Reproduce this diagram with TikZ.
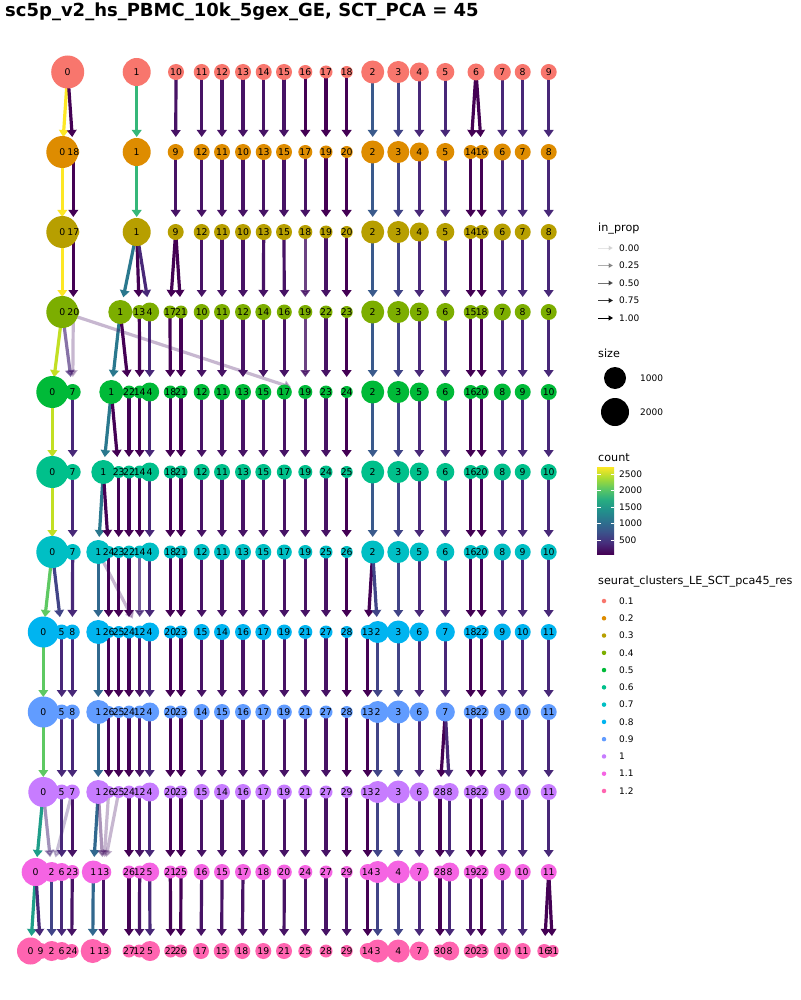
\documentclass[tikz,border=0pt]{standalone}
\usepackage{fontspec}
\setmainfont{DejaVu Sans}
\usetikzlibrary{arrows.meta,backgrounds}
% resolution colours (hue palette)
\definecolor{res1}{HTML}{F8766D}
\definecolor{res2}{HTML}{DE8C00}
\definecolor{res3}{HTML}{B79F00}
\definecolor{res4}{HTML}{7CAE00}
\definecolor{res5}{HTML}{00BA38}
\definecolor{res6}{HTML}{00C08B}
\definecolor{res7}{HTML}{00BFC4}
\definecolor{res8}{HTML}{00B4F0}
\definecolor{res9}{HTML}{619CFF}
\definecolor{res10}{HTML}{C77CFF}
\definecolor{res11}{HTML}{F564E3}
\definecolor{res12}{HTML}{FF64B0}
% edge colours (viridis by count)
\definecolor{vA}{HTML}{440154}
\definecolor{vB}{HTML}{471365}
\definecolor{vC}{HTML}{482878}
\definecolor{vD}{HTML}{414487}
\definecolor{vE}{HTML}{3A5A8C}
\definecolor{vF}{HTML}{31688E}
\definecolor{vG}{HTML}{2A788E}
\definecolor{vI}{HTML}{1F9E89}
\definecolor{vK}{HTML}{35B779}
\definecolor{vL}{HTML}{5EC962}
\definecolor{vO}{HTML}{C2DF23}
\definecolor{vP}{HTML}{FDE725}
\definecolor{vir1}{HTML}{472D7B}
\definecolor{vir2}{HTML}{3B528B}
\definecolor{vir3}{HTML}{2C728E}
\definecolor{vir4}{HTML}{21908C}
\definecolor{vir5}{HTML}{27AD81}
\definecolor{vir6}{HTML}{5DC863}
\definecolor{vir7}{HTML}{AADC32}
\pgfdeclareverticalshading{viridisbar}{100bp}{color(0bp)=(vA); color(25bp)=(vA); color(31.25bp)=(vir1); color(37.5bp)=(vir2); color(43.75bp)=(vir3); color(50bp)=(vir4); color(56.25bp)=(vir5); color(62.5bp)=(vir6); color(68.75bp)=(vir7); color(75bp)=(vP); color(100bp)=(vP)}
\tikzset{
  clnode/.style={circle, inner sep=0pt, draw=none},
  cllbl/.style={font=\fontsize{9.3}{10}\selectfont, inner sep=0pt, text=black},
  arr/.style={-{Triangle[length=7pt,width=9.5pt]}, line width=3.2pt, shorten >=15pt},
  legtitle/.style={font=\fontsize{11.2}{13}\selectfont, anchor=west, inner sep=0pt},
  legtxt/.style={font=\fontsize{9}{10}\selectfont, anchor=west, inner sep=0pt},
  legarr/.style={-{Triangle[length=4.5pt,width=5pt]}, line width=1pt, draw=black},
}
% one row of clusters: circles first, then their labels
\newcommand{\clrow}[3]{%
  \foreach \c/\x/\r in #3 {\node[clnode, fill=res#1, minimum size=2*\r pt] (r#1-\c) at (\x,#2) {};}
  \foreach \c/\x/\r in #3 {\node[cllbl] (t#1-\c) at (r#1-\c) {\c};}
}
% cluster / x / radius per resolution
\newcommand{\lstA}{0/67.7/16.5, 1/136.7/14, 10/176/8, 11/201.7/8, 12/222/8, 13/243/8, 14/263.7/8, 15/284/8, 16/305.3/7, 17/326/6.5, 18/346.7/6, 2/372.7/11.5, 3/398.3/11, 4/419.3/9.5, 5/445.3/9, 6/476/8.5, 7/502.3/8.5, 8/522.7/8, 9/548.7/8}
\newcommand{\lstB}{0/62.3/16, 18/73.3/6, 1/136.7/14, 9/175.7/8, 12/201.7/8, 11/222/8, 10/243/8, 13/263.7/8, 15/284/8, 17/305.3/7, 19/326/6.5, 20/346.7/6, 2/372.7/11.5, 3/398.3/11, 4/419.3/9.5, 5/445.3/9, 14/470.7/7, 16/481.7/7, 6/502.3/8.5, 7/522.7/8, 8/548.7/8}
\newcommand{\lstC}{0/62.3/16, 17/73.3/6, 1/136.7/14, 9/175.7/8, 12/201.7/8, 11/222/8, 10/243/8, 13/263.7/8, 15/284/8, 18/305.3/7, 19/326/6.5, 20/346.7/6, 2/372.7/11.5, 3/398.3/11, 4/419.3/9.5, 5/445.3/9, 14/470.7/7, 16/481.7/7, 6/502.3/8.5, 7/522.7/8, 8/548.7/8}
\newcommand{\lstD}{0/62.3/16, 20/73.3/6, 1/120.3/12, 13/139.3/7, 4/149.7/9.5, 17/170/6.5, 21/181/6.5, 10/201.7/8, 11/222/8, 12/243/8, 14/263.3/8, 16/284.3/7.5, 19/305.3/7, 22/326/6.5, 23/346.7/6, 2/372.7/11.5, 3/398.3/11, 5/419.3/9.5, 6/445.3/9, 15/470.7/7, 18/481.7/7, 7/502.3/8.5, 8/522.7/8, 9/548.7/8}
\newcommand{\lstE}{0/52.3/16, 7/72.7/8, 1/111.3/12, 22/129/6.5, 14/139.7/6.5, 4/149.7/9.5, 18/170.3/6.5, 21/181/6.5, 12/201.7/8, 11/222/8, 13/243/8, 15/263.3/8, 17/284.3/7.5, 19/305.3/7, 23/326/6.5, 24/346.7/6, 2/372.7/11.5, 3/398.3/11, 5/419.3/9.5, 6/445.3/9, 16/470.7/7, 20/481.7/7, 8/502.3/8.5, 9/522.7/8, 10/548.7/8}
\newcommand{\lstF}{0/52.3/16, 7/72.7/8, 1/103.3/12, 23/118.7/6, 22/129/6.5, 14/139.7/6.5, 4/149.7/9.5, 18/170.3/6.5, 21/181/6.5, 12/201.7/8, 11/222/8, 13/243/8, 15/263.3/8, 17/284.3/7.5, 19/305.3/7, 24/326/6.5, 25/346.7/6, 2/372.7/11.5, 3/398.3/11, 5/419.3/9.5, 6/445.3/9, 16/470.7/7, 20/481.7/7, 8/502.3/8.5, 9/522.7/8, 10/548.7/8}
\newcommand{\lstG}{0/52.3/16, 7/72.7/8, 1/98.3/12, 24/108.7/6, 23/118.7/6, 22/129/6.5, 14/139.7/6.5, 4/149.7/9.5, 18/170.3/6.5, 21/181/6.5, 12/201.7/8, 11/222/8, 13/243/8, 15/263.3/8, 17/284.3/7.5, 19/305.3/7, 25/326/6.5, 26/346.7/6, 2/372.7/11.5, 3/398.3/11, 5/419.3/9.5, 6/445.3/9, 16/470.7/7, 20/481.7/7, 8/502.3/8.5, 9/522.7/8, 10/548.7/8}
\newcommand{\lstH}{0/43.3/15.5, 5/61.7/7.5, 8/72.3/7.5, 1/98.3/12, 26/108.7/6, 25/118.7/6, 24/129/6.5, 12/139.7/6.5, 4/149.7/9.5, 20/170.3/6.5, 23/181/6.5, 15/201.7/8, 14/222/8, 16/243/8, 17/263.3/8, 19/284.3/7.5, 21/305.3/7, 27/326/6.5, 28/346.7/6, 13/367.7/7, 2/377.7/11, 3/398.3/11.5, 6/419.3/9.5, 7/445.3/9.5, 18/470.7/7, 22/481.7/7, 9/502.3/8.5, 10/522.7/8, 11/548.7/8}
\newcommand{\lstI}{0/43.3/15.5, 5/61.7/7.5, 8/72.3/7.5, 1/98.3/12, 26/108.7/6, 25/118.7/6, 24/129/6.5, 12/139.7/6.5, 4/149.7/9.5, 20/170.3/6.5, 23/181/6.5, 14/201.7/8, 15/222/8, 16/243/8, 17/263.3/8, 19/284.3/7.5, 21/305.3/7, 27/326/6.5, 28/346.7/6, 13/367.7/7, 2/377.7/11, 3/398.3/11.5, 6/419.3/9.5, 7/445.3/9.5, 18/470.7/7, 22/481.7/7, 9/502.3/8.5, 10/522.7/8, 11/548.7/8}
\newcommand{\lstJ}{0/43.3/15, 5/61.7/7.5, 7/72.3/7.5, 1/98.3/12, 26/108.7/6, 25/118.7/6, 24/129/6.5, 12/139.7/6.5, 4/149.7/9.5, 20/170.3/6.5, 23/181/6.5, 15/201.7/8, 14/222/8, 16/243/8, 17/263.3/8, 19/284.3/7.5, 21/305.3/7, 27/326/6.5, 29/346.7/6, 13/367.7/7, 2/377.7/11, 3/398.3/11.5, 6/419.3/9.5, 28/440/7, 8/449.7/9, 18/470.7/7, 22/481.7/7, 9/502.3/8.5, 10/522.7/8, 11/548.7/8}
\newcommand{\lstK}{0/35.7/14, 2/51.7/10, 6/61.7/9, 23/72.3/7, 1/93.3/11.5, 13/103.3/8, 26/129/6.5, 12/139.7/6.5, 5/149.7/9.5, 21/170.3/6.5, 25/181/6.5, 16/201.7/8, 15/222/8, 17/243/8, 18/263.3/8, 20/284.3/7.5, 24/305.3/7, 27/326/6.5, 29/346.7/6, 14/367.7/8, 3/377.7/11, 4/398.3/11.5, 7/419.3/9.5, 28/440/6.5, 8/449.7/9.5, 19/470.7/7, 22/481.7/7, 9/502.3/8.5, 10/522.7/8, 11/548.7/8}
\newcommand{\lstL}{0/30.5/13.5, 9/40.7/8, 2/51.7/10, 6/61.7/9, 24/71.7/7, 1/92.7/12, 13/103.3/8, 27/129/6.5, 12/139.3/6.5, 5/150/10, 22/170.7/6.5, 26/180.7/6.5, 17/201/8, 15/221.7/8, 18/242.3/8, 19/263.3/8, 21/284/8, 25/305.3/7, 28/326/6.5, 29/346.7/6, 14/367.7/8, 3/377.7/11.5, 4/398.3/11.5, 7/419.3/9.5, 30/440/6.5, 8/449.7/9.5, 20/470.7/7, 23/481.7/7, 10/502.3/8.5, 11/522.7/8, 16/544.3/7, 31/552.7/6}

\begin{document}
\begin{tikzpicture}[x=1pt,y=-1pt]
  \begin{scope}[on background layer]
    \fill[white] (0,0) rectangle (800,1000);
  \end{scope}
  \useasboundingbox (0,0) rectangle (800,1000);
  \node[font=\bfseries\fontsize{18}{21}\selectfont, anchor=base west, inner sep=0pt] (title) at (5,17) {sc5p\_v2\_hs\_PBMC\_10k\_5gex\_GE, SCT\_PCA = 45};
  % clusters, one row per resolution
  \clrow{1}{72}{\lstA}
  \clrow{2}{152}{\lstB}
  \clrow{3}{232}{\lstC}
  \clrow{4}{312}{\lstD}
  \clrow{5}{392}{\lstE}
  \clrow{6}{472}{\lstF}
  \clrow{7}{552}{\lstG}
  \clrow{8}{632}{\lstH}
  \clrow{9}{712}{\lstI}
  \clrow{10}{792}{\lstJ}
  \clrow{11}{872}{\lstK}
  \clrow{12}{951}{\lstL}
  % edges under the clusters
  \begin{scope}[on background layer]
    \foreach \a/\b/\col in {0/0/vP, 0/18/vA, 1/1/vK, 10/9/vB, 11/12/vB, 12/11/vB, 13/10/vB, 14/13/vB, 15/15/vB, 16/17/vA, 17/19/vA, 18/20/vA, 2/2/vE, 3/3/vD, 4/4/vC, 5/5/vC, 6/14/vA, 6/16/vA, 7/6/vC, 8/7/vC, 9/8/vC}
      \draw[arr, draw=\col] (r1-\a.center) -- (r2-\b.center);
    \foreach \a/\b/\col in {0/0/vP, 18/17/vA, 1/1/vK, 9/9/vB, 12/12/vB, 11/11/vB, 10/10/vB, 13/13/vB, 15/15/vB, 17/18/vB, 19/19/vA, 20/20/vA, 2/2/vE, 3/3/vD, 4/4/vC, 5/5/vC, 14/14/vA, 16/16/vA, 6/6/vC, 7/7/vC, 8/8/vC}
      \draw[arr, draw=\col] (r2-\a.center) -- (r3-\b.center);
    \foreach \a/\b/\col in {0/0/vP, 17/20/vA, 1/1/vG, 1/13/vA, 1/4/vC, 9/17/vA, 9/21/vA, 12/10/vB, 11/11/vB, 10/12/vB, 13/14/vB, 15/16/vB, 19/22/vB, 20/23/vA, 2/2/vE, 3/3/vD, 4/5/vC, 5/6/vC, 14/15/vA, 16/18/vA, 6/7/vC, 7/8/vC, 8/9/vC}
      \draw[arr, draw=\col] (r3-\a.center) -- (r4-\b.center);
    \draw[arr, draw=vB, opacity=.8] (r3-18.center) -- (r4-19.center);
    \foreach \a/\b/\col in {0/0/vO, 1/1/vG, 1/22/vA, 13/14/vA, 4/4/vC, 17/18/vA, 21/21/vA, 10/12/vB, 11/11/vB, 12/13/vB, 14/15/vB, 16/17/vB, 22/23/vB, 23/24/vA, 2/2/vE, 3/3/vD, 5/5/vC, 6/6/vC, 15/16/vA, 18/20/vA, 7/8/vC, 8/9/vC, 9/10/vC}
      \draw[arr, draw=\col] (r4-\a.center) -- (r5-\b.center);
    \draw[arr, draw=vC, opacity=.65] (r4-0.center) -- (r5-7.center);
    \draw[arr, draw=vB, opacity=.3] (r4-20.center) -- (r5-7.center);
    \draw[arr, draw=vB, opacity=.3] (r4-0.center) -- (r5-19.center);
    \draw[arr, draw=vB, opacity=.8] (r4-19.center) -- (r5-19.center);
    \foreach \a/\b/\col in {0/0/vO, 7/7/vC, 1/1/vG, 1/23/vA, 22/22/vA, 14/14/vA, 4/4/vC, 18/18/vA, 21/21/vA, 12/12/vB, 11/11/vB, 13/13/vB, 15/15/vB, 17/17/vB, 19/19/vB, 23/24/vB, 24/25/vA, 2/2/vE, 3/3/vD, 5/5/vC, 6/6/vC, 16/16/vA, 20/20/vA, 8/8/vC, 9/9/vC, 10/10/vC}
      \draw[arr, draw=\col] (r5-\a.center) -- (r6-\b.center);
    \foreach \a/\b/\col in {0/0/vO, 7/7/vC, 1/1/vG, 1/24/vA, 23/23/vA, 22/22/vA, 14/14/vA, 4/4/vC, 18/18/vA, 21/21/vA, 12/12/vB, 11/11/vB, 13/13/vB, 15/15/vB, 17/17/vB, 19/19/vB, 24/25/vB, 25/26/vA, 2/2/vE, 3/3/vD, 5/5/vC, 6/6/vC, 16/16/vA, 20/20/vA, 8/8/vC, 9/9/vC, 10/10/vC}
      \draw[arr, draw=\col] (r6-\a.center) -- (r7-\b.center);
    \foreach \a/\b/\col in {0/0/vL, 0/5/vD, 7/8/vC, 1/1/vF, 24/26/vA, 23/25/vA, 22/24/vA, 4/4/vC, 18/20/vA, 21/23/vA, 12/15/vB, 11/14/vB, 13/16/vB, 15/17/vB, 17/19/vB, 19/21/vB, 25/27/vB, 26/28/vA, 2/13/vA, 2/2/vD, 3/3/vD, 5/6/vC, 6/7/vC, 16/18/vA, 20/22/vA, 8/9/vC, 9/10/vC, 10/11/vC}
      \draw[arr, draw=\col] (r7-\a.center) -- (r8-\b.center);
    \draw[arr, draw=vB, opacity=.3] (r7-1.center) -- (r8-12.center);
    \draw[arr, draw=vC, opacity=.75] (r7-14.center) -- (r8-12.center);
    \foreach \a/\b/\col in {0/0/vL, 5/5/vC, 8/8/vC, 1/1/vF, 26/26/vA, 25/25/vA, 24/24/vA, 12/12/vB, 4/4/vC, 20/20/vA, 23/23/vA, 15/14/vB, 14/15/vB, 16/16/vB, 17/17/vB, 19/19/vB, 21/21/vB, 27/27/vB, 28/28/vA, 13/13/vA, 2/2/vD, 3/3/vD, 6/6/vC, 7/7/vC, 18/18/vA, 22/22/vA, 9/9/vC, 10/10/vC, 11/11/vC}
      \draw[arr, draw=\col] (r8-\a.center) -- (r9-\b.center);
    \foreach \a/\b/\col in {0/0/vL, 5/5/vC, 8/7/vC, 1/1/vF, 26/26/vA, 25/25/vA, 24/24/vA, 12/12/vB, 4/4/vC, 20/20/vA, 23/23/vA, 14/15/vB, 15/14/vB, 16/16/vB, 17/17/vB, 19/19/vB, 21/21/vB, 27/27/vB, 28/29/vA, 13/13/vA, 2/2/vD, 3/3/vD, 6/6/vC, 7/28/vA, 7/8/vC, 18/18/vA, 22/22/vA, 9/9/vC, 10/10/vC, 11/11/vC}
      \draw[arr, draw=\col] (r9-\a.center) -- (r10-\b.center);
    \foreach \a/\b/\col in {0/0/vI, 5/6/vC, 7/23/vB, 1/1/vF, 24/26/vA, 12/12/vB, 4/5/vC, 20/21/vA, 23/25/vA, 15/16/vB, 14/15/vB, 16/17/vB, 17/18/vB, 19/20/vB, 21/24/vB, 27/27/vB, 29/29/vA, 13/14/vA, 2/3/vD, 3/4/vD, 6/7/vC, 28/28/vA, 8/8/vC, 18/19/vA, 22/22/vA, 9/9/vC, 10/10/vC, 11/11/vC}
      \draw[arr, draw=\col] (r10-\a.center) -- (r11-\b.center);
    \draw[arr, draw=vC, opacity=.5] (r10-0.center) -- (r11-2.center);
    \draw[arr, draw=vC, opacity=.3] (r10-7.center) -- (r11-2.center);
    \draw[arr, draw=vB, opacity=.45] (r10-1.center) -- (r11-13.center);
    \draw[arr, draw=vB, opacity=.3] (r10-26.center) -- (r11-13.center);
    \draw[arr, draw=vB, opacity=.3] (r10-25.center) -- (r11-13.center);
    \foreach \a/\b/\col in {0/0/vI, 0/9/vC, 2/2/vD, 6/6/vC, 23/24/vB, 1/1/vF, 13/13/vB, 26/27/vA, 12/12/vB, 5/5/vC, 21/22/vA, 25/26/vA, 16/17/vB, 15/15/vB, 17/18/vB, 18/19/vB, 20/21/vB, 24/25/vB, 27/28/vB, 29/29/vB, 14/14/vA, 3/3/vD, 4/4/vD, 7/7/vC, 28/30/vA, 8/8/vC, 19/20/vB, 22/23/vA, 9/10/vC, 10/11/vC, 11/16/vA, 11/31/vA}
      \draw[arr, draw=\col] (r11-\a.center) -- (r12-\b.center);
  \end{scope}
  % legend: in_prop
  \node[legtitle] (ltprop) at (598,229) {in\_prop};
  \foreach \i/\v/\o in {0/0.00/0.1, 1/0.25/0.32, 2/0.50/0.55, 3/0.75/0.77, 4/1.00/1}{
    \coordinate (pa\i) at (598,{248+17.5*\i});
    \coordinate (pb\i) at (613,{248+17.5*\i});
    \draw[legarr, opacity=\o] (pa\i) -- (pb\i);
    \node[legtxt] (ip\i) at (619,{248+17.5*\i}) {\v};
  }
  % legend: size
  \node[legtitle] (ltsize) at (598,353) {size};
  \node[clnode, fill=black, minimum size=22pt] (sz1) at (615,378) {};
  \node[legtxt] (szt1) at (640,378) {1000};
  \node[clnode, fill=black, minimum size=28pt] (sz2) at (615,412) {};
  \node[legtxt] (szt2) at (640,412) {2000};
  % legend: count
  \node[legtitle] (ltcount) at (598,458) {count};
  \shade[shading=viridisbar] (597,467) rectangle (614,554);
  \foreach \y/\t in {474/2500, 490.5/2000, 507/1500, 523.5/1000, 540/500}{
    \draw[white, line width=0.6pt] (597,\y) -- (600.5,\y);
    \draw[white, line width=0.6pt] (610.5,\y) -- (614,\y);
    \node[legtxt] (ct\t) at (619,\y) {\t};
  }
  % legend: resolution
  \node[legtitle] (ltres) at (598,582) {seurat\_clusters\_LE\_SCT\_pca45\_res};
  \foreach \i/\t in {1/0.1, 2/0.2, 3/0.3, 4/0.4, 5/0.5, 6/0.6, 7/0.7, 8/0.8, 9/0.9, 10/1, 11/1.1, 12/1.2}{
    \node[clnode, fill=res\i, minimum size=4.5pt] (ld\i) at (604,{601+17.27*(\i-1)}) {};
    \node[legtxt] (lt\i) at (619,{601+17.27*(\i-1)}) {\t};
  }
\end{tikzpicture}
\end{document}
